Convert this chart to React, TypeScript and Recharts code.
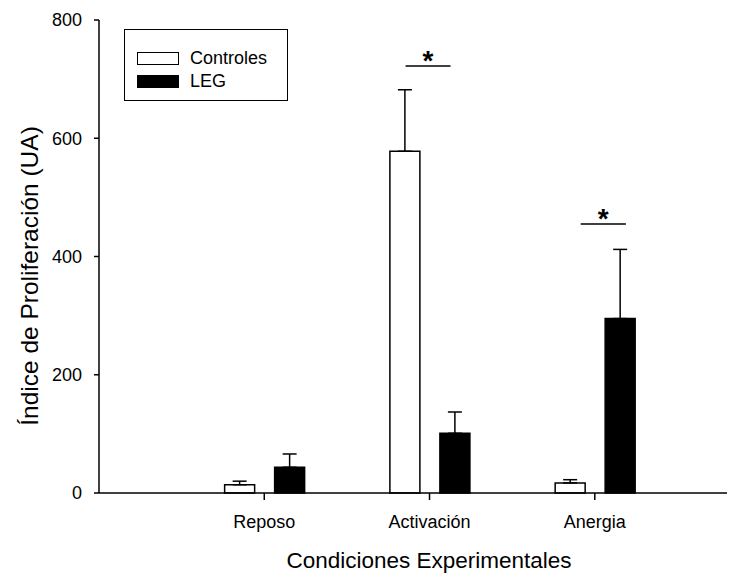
import { BarChart, Bar, XAxis, YAxis, ErrorBar, ReferenceLine, Legend, Label } from "recharts";

const categories = ["Reposo", "Activación", "Anergia"];
const positions = [1, 2, 3];
const controles = [14, 578, 17];
const controlesErr = [6, 104, 5.5];
const leg = [43.5, 101, 295];
const legErr = [22.5, 36, 117];
const yTicks = [0, 200, 400, 600, 800];

// líneas de significancia (*): tramo en x y altura en y
const sigFrom = [1.855, 2.915];
const sigTo = [2.127, 3.188];
const sigY = [722, 455];

const series = [
  { key: "controles", err: "controlesErr", name: "Controles", fill: "#fff" },
  { key: "leg", err: "legErr", name: "LEG", fill: "#000" },
];

const data = positions.map((x, i) => ({
  x,
  controles: controles[i],
  controlesErr: [0, controlesErr[i]],
  leg: leg[i],
  legErr: [0, legErr[i]],
}));

function LegendBox() {
  return (
    <div
      style={{
        width: 164,
        height: 72,
        boxSizing: "border-box",
        border: "1.5px solid #000",
        background: "#fff",
        padding: "17px 0 0 12px",
      }}
    >
      {series.map((s) => (
        <div key={s.key} style={{ display: "flex", alignItems: "center", height: 23, fontSize: 18, color: "#000" }}>
          <span
            style={{
              width: 42,
              height: 13,
              boxSizing: "border-box",
              border: "1.5px solid #000",
              background: s.fill,
              marginRight: 11,
            }}
          />
          {s.name}
        </div>
      ))}
    </div>
  );
}

export default function App() {
  return (
    <div style={{ position: "absolute", left: 0, top: 0, fontFamily: '"Liberation Sans", Arial, sans-serif' }}>
      <BarChart
        width={748}
        height={574}
        data={data}
        margin={{ top: 20, right: 21, bottom: 0, left: 0 }}
        barGap={20}
        barSize={30}
      >
        <XAxis
          dataKey="x"
          type="number"
          domain={[0, 3.8]}
          ticks={positions}
          interval={0}
          allowDataOverflow
          tickFormatter={(v) => categories[positions.indexOf(v)]}
          height={81}
          tickSize={7}
          tickMargin={15}
          stroke="#000"
          strokeWidth={1.5}
          tick={{ fill: "#000", fontSize: 18 }}
        >
          <Label
            value="Condiciones Experimentales"
            position="insideBottom"
            offset={6}
            dx={16}
            style={{ fontSize: 22.5, fill: "#000" }}
          />
        </XAxis>
        <YAxis
          domain={[0, 800]}
          ticks={yTicks}
          width={99}
          tickSize={5}
          tickMargin={12}
          stroke="#000"
          strokeWidth={1.5}
          tick={{ fill: "#000", fontSize: 18 }}
        >
          <Label
            value="Índice de Proliferación (UA)"
            angle={-90}
            position="insideLeft"
            offset={29}
            dy={19.5}
            style={{ textAnchor: "middle", fontSize: 24.5, fill: "#000" }}
          />
        </YAxis>
        <Legend
          layout="horizontal"
          verticalAlign="middle"
          align="center"
          content={() => <LegendBox />}
          wrapperStyle={{ left: 124, top: 29, width: 164, height: 72 }}
        />
        {series.map((s) => (
          <Bar
            key={s.key}
            dataKey={s.key}
            name={s.name}
            fill={s.fill}
            stroke="#000"
            strokeWidth={1.5}
            isAnimationActive={false}
          >
            <ErrorBar dataKey={s.err} width={7} stroke="#000" strokeWidth={1.5} />
          </Bar>
        ))}
        {sigY.map((y, i) => (
          <ReferenceLine
            key={i}
            segment={[
              { x: sigFrom[i], y },
              { x: sigTo[i], y },
            ]}
            stroke="#000"
            strokeWidth={1.5}
            label={{ value: "*", position: "top", offset: -4, fontSize: 28, fontWeight: "bold", fill: "#000" }}
          />
        ))}
      </BarChart>
    </div>
  );
}
